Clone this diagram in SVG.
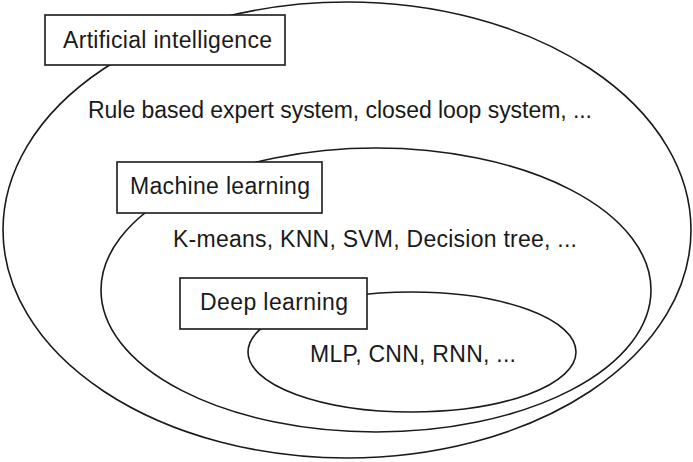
<svg xmlns="http://www.w3.org/2000/svg" width="693" height="462" viewBox="0 0 693 462">
<style>
.sh{fill:none;stroke:#1a1a1a;stroke-width:1.6}
.bx{fill:#fff;stroke:#1a1a1a;stroke-width:1.6}
.t{font-family:"Liberation Sans",Arial,sans-serif;font-size:23px;fill:#1a1a1a}
</style>
<rect width="693" height="462" fill="#fff"/>
<g id="connectors"></g>
<g id="ai">
<ellipse class="sh" cx="347" cy="230" rx="344" ry="228"/>
<text class="t" x="88" y="118" textLength="504">Rule based expert system, closed loop system, ...</text>
</g>
<g id="ml">
<ellipse class="sh" cx="376" cy="290" rx="275" ry="142"/>
<text class="t" x="173" y="247" textLength="404">K-means, KNN, SVM, Decision tree, ...</text>
</g>
<g id="dl">
<ellipse class="sh" cx="412" cy="352" rx="164" ry="60"/>
<text class="t" x="310" y="362" textLength="206">MLP, CNN, RNN, ...</text>
</g>
<g id="ai-label">
<rect class="bx" x="45" y="15" width="240" height="50"/>
<text class="t" x="63" y="48" textLength="209">Artificial intelligence</text>
</g>
<g id="ml-label">
<rect class="bx" x="117" y="162" width="205" height="51"/>
<text class="t" x="130" y="194" textLength="180">Machine learning</text>
</g>
<g id="dl-label">
<rect class="bx" x="180" y="278" width="187" height="51"/>
<text class="t" x="200" y="310" textLength="148">Deep learning</text>
</g>
</svg>
